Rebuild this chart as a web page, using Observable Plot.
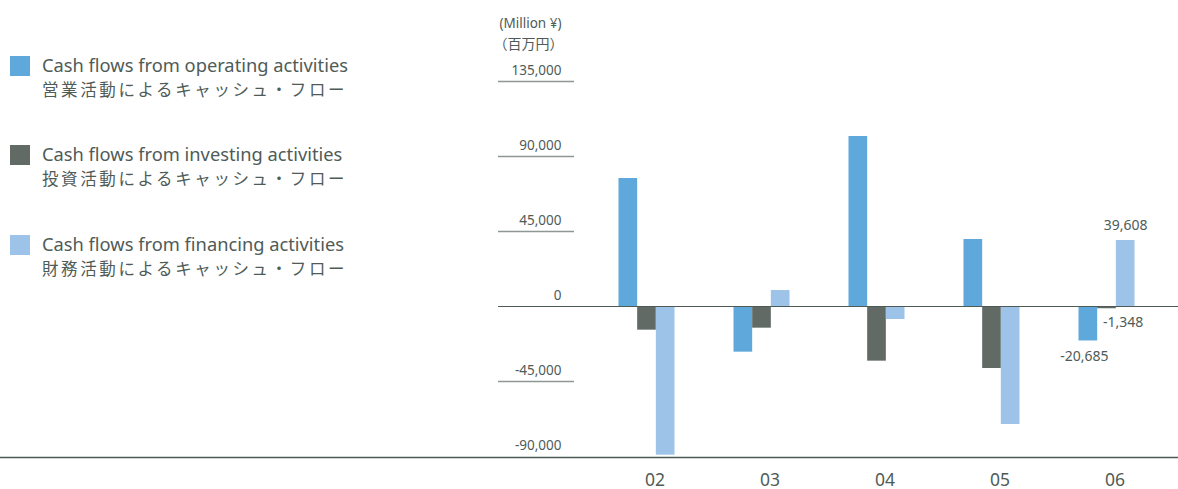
<!DOCTYPE html>
<html>
<head>
<meta charset="utf-8">
<script src="https://cdn.jsdelivr.net/npm/d3@7"></script>
<script src="https://cdn.jsdelivr.net/npm/@observablehq/plot@0.6"></script>
<style>
  html, body { margin: 0; padding: 0; background: #fff; }
  #wrap { position: relative; width: 1178px; height: 489px; font-family: "Noto Sans", "Noto Sans CJK JP", sans-serif; color: #4f5b57; }
  #legend { position: absolute; left: 10px; top: 0; }
  .item { position: absolute; left: 0; white-space: nowrap; }
  .sw { position: absolute; left: 0; width: 20px; height: 20px; }
  .l1 { position: absolute; left: 32px; font-size: 18.3px; line-height: 24px; }
  .l2 { position: absolute; left: 32px; font-size: 16.5px; line-height: 22px; letter-spacing: 2.6px; font-family: "Noto Sans CJK JP", sans-serif; }
  #chart { position: absolute; left: 0; top: 0; }
</style>
</head>
<body>
<div id="wrap">
  <div id="chart"></div>
  <div id="legend"></div>
</div>
<script>
// ---- data ----
const years = ["02", "03", "04", "05", "06"];
const seriesEn = ["Cash flows from operating activities", "Cash flows from investing activities", "Cash flows from financing activities"];
const seriesJa = ["営業活動によるキャッシュ・フロー", "投資活動によるキャッシュ・フロー", "財務活動によるキャッシュ・フロー"];
const colors = ["#5fa8db", "#616a64", "#9dc3e8"];
const operating = [76800, -27400, 102000, 40200, -20685];
const investing = [-14200, -13000, -32800, -37200, -1348];
const financing = [-89200, 9600, -7800, -70800, 39608];
const yTicks = [135000, 90000, 45000, 0, -45000, -90000];
const unitEn = "(Million ¥)";
const unitJa = "（百万円）";
const annotated = "06";

const fmt = d3.formatLocale({decimal: ".", thousands: ",", grouping: [3], currency: ["", ""], minus: "-"}).format(",");
const textColor = "#4f5b57";

const rows = (vals) => years.map((y, i) => ({year: y, value: vals[i]}));
const op = rows(operating), inv = rows(investing), fin = rows(financing);

// band step 115, three bars of ~18.67 px
const bw = 56 / 3;
const band = 115;
const side = (band - 3 * bw) / 2;

const plot = Plot.plot({
  width: 1178,
  height: 489,
  marginLeft: 0,
  marginRight: 0,
  marginTop: 81,
  marginBottom: 33,
  style: {fontFamily: "'Noto Sans', sans-serif", color: textColor, background: "transparent", overflow: "visible"},
  x: {type: "band", domain: years, range: [588.5, 1163.5], padding: 0, axis: null},
  y: {domain: [-90000, 135000], range: [456, 81], axis: null},
  marks: [
    Plot.barY(op, {x: "year", y: "value", fill: colors[0], insetLeft: side, insetRight: side + 2 * bw}),
    Plot.barY(inv, {x: "year", y: "value", fill: colors[1], insetLeft: side + bw, insetRight: side + bw}),
    Plot.barY(fin, {x: "year", y: "value", fill: colors[2], insetLeft: side + 2 * bw, insetRight: side}),
    // short grid ticks
    Plot.ruleY(yTicks.filter(d => d !== 0 && d !== -90000), {y: d => d, stroke: "#8f9794", strokeWidth: 1.3, insetLeft: 498, insetRight: 1178 - 574}),
    // zero line
    Plot.ruleY([0], {stroke: "#4e5a55", strokeWidth: 1.2, insetLeft: 498}),
    // bottom baseline
    Plot.ruleY([-90000], {stroke: "#4e5a55", strokeWidth: 1.6, dy: 1}),
    // tick labels
    Plot.text(yTicks, {y: d => d, text: d => fmt(d), frameAnchor: "left", dx: 561, dy: -10.5, textAnchor: "end", fontSize: 13.5, fill: textColor}),
    // unit labels
    Plot.text([unitEn], {frameAnchor: "top-left", dx: 561, dy: 23 - 81, textAnchor: "end", fontSize: 13.5, fill: textColor, lineAnchor: "middle"}),
    Plot.text([unitJa], {frameAnchor: "top-left", dx: 563, dy: 44 - 81, textAnchor: "end", fontSize: 14, fill: textColor, lineAnchor: "middle", fontFamily: "'Noto Sans CJK JP', sans-serif"}),
    // x labels
    Plot.text(years, {x: d => d, frameAnchor: "bottom", dx: 8, dy: 480 - 456, fontSize: 17.5, fill: textColor, lineAnchor: "middle"}),
    // value annotations (06)
    Plot.text(fin.filter(d => d.year === annotated), {x: "year", y: "value", text: d => fmt(d.value), dx: bw, dy: -15, fontSize: 14, fill: textColor, lineAnchor: "middle"}),
    Plot.text(op.filter(d => d.year === annotated), {x: "year", y: "value", text: d => fmt(d.value), dx: -bw - 4, dy: 15.5, fontSize: 14, fill: textColor, lineAnchor: "middle"}),
    Plot.text(inv.filter(d => d.year === annotated), {x: "year", y: "value", text: d => fmt(d.value), dx: -4, dy: 14, textAnchor: "start", fontSize: 14, fill: textColor, lineAnchor: "middle"})
  ]
});
document.getElementById("chart").appendChild(plot);

// legend
const legend = document.getElementById("legend");
const tops = [56, 145, 235];
seriesEn.forEach((name, i) => {
  const item = document.createElement("div");
  item.className = "item";
  item.style.top = tops[i] + "px";
  item.innerHTML = `<div class="sw" style="background:${colors[i]}"></div>
    <div class="l1" style="top:-3px">${name}</div>
    <div class="l2" style="top:22px">${seriesJa[i]}</div>`;
  legend.appendChild(item);
});
</script>
</body>
</html>
